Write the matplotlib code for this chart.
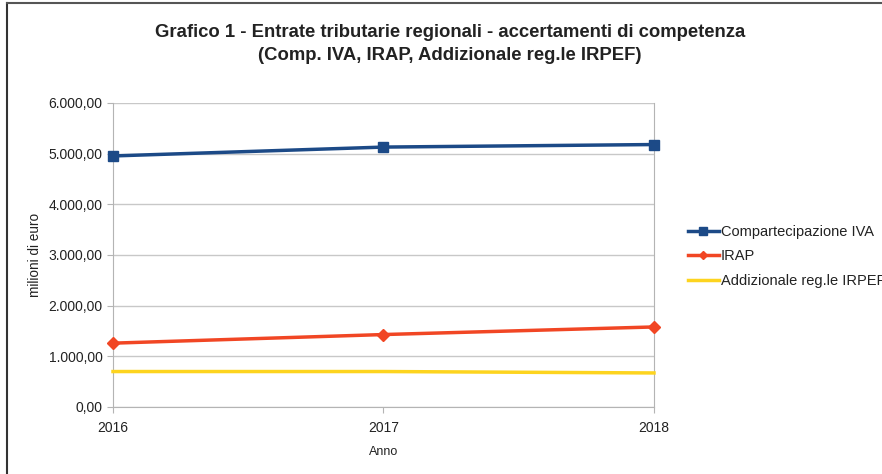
import matplotlib
matplotlib.use("Agg")
import matplotlib.pyplot as plt
from matplotlib.lines import Line2D
from matplotlib.ticker import FuncFormatter

plt.rcParams['font.family'] = ['Liberation Sans', 'DejaVu Sans']

years = ["2016", "2017", "2018"]
comp_iva = [4955, 5130, 5180]
irap = [1260, 1430, 1580]
addizionale = [700, 700, 672]
labels = ["Compartecipazione IVA", "IRAP", "Addizionale reg.le IRPEF"]
title = "Grafico 1 - Entrate tributarie regionali - accertamenti di competenza\n(Comp. IVA, IRAP, Addizionale reg.le IRPEF)"

fig = plt.figure(figsize=(8.82, 4.74), dpi=100)
ax = fig.add_axes([113/882, 1-407/474, (654-113)/882, (407-103)/474])

x = list(range(len(years)))
ax.plot(x, comp_iva, color="#1c4a87", lw=2.5, marker="s", ms=7.5, label=labels[0], zorder=3, clip_on=False)
ax.plot(x, irap, color="#f14624", lw=2.5, marker="D", ms=6.5, label=labels[1], zorder=3, clip_on=False)
ax.plot(x, addizionale, color="#fdd41f", lw=2.5, label=labels[2], zorder=3, clip_on=False)

ax.set_xlim(0, 2)
ax.set_ylim(0, 6000)
ax.set_xticks(x)
ax.set_xticklabels(years)
ax.set_yticks(range(0, 6001, 1000))

def fmt(v, pos):
    s = f"{v:,.2f}"
    return s.replace(",", "X").replace(".", ",").replace("X", ".")
ax.yaxis.set_major_formatter(FuncFormatter(fmt))

ax.grid(axis="y", color="#c8c8c8", lw=1)
ax.set_axisbelow(True)
for s in ["left", "bottom", "right"]:
    ax.spines[s].set_color("#b4b4b4")
ax.spines["top"].set_visible(False)
ax.tick_params(axis="both", colors="#b4b4b4", labelcolor="#222222", labelsize=10, length=4)
ax.tick_params(axis="x", pad=6)

ax.set_xlabel("Anno", fontsize=9, color="#222222", labelpad=8)
ax.set_ylabel("milioni di euro", fontsize=9.8, color="#222222", labelpad=5)

fig.text(450/882, 1-44/474, title, ha="center", va="center", fontsize=13.3,
         fontweight="bold", color="#222222", linespacing=1.5)

leg = ax.legend(loc="upper left", bbox_to_anchor=(688/882, 1-225/474), bbox_transform=fig.transFigure,
                frameon=False, fontsize=10.5, handlelength=2.1, handletextpad=0.15,
                labelspacing=0.72, borderaxespad=0, borderpad=0, markerscale=0.7)
for t in leg.get_texts():
    t.set_color("#222222")

fig.add_artist(Line2D([7/882, 7/882], [0, 1-3/474], transform=fig.transFigure, color="#333333", lw=1.5))
fig.add_artist(Line2D([7/882, 1], [1-3/474, 1-3/474], transform=fig.transFigure, color="#555555", lw=1.5))

fig.savefig("out.png", dpi=100)
